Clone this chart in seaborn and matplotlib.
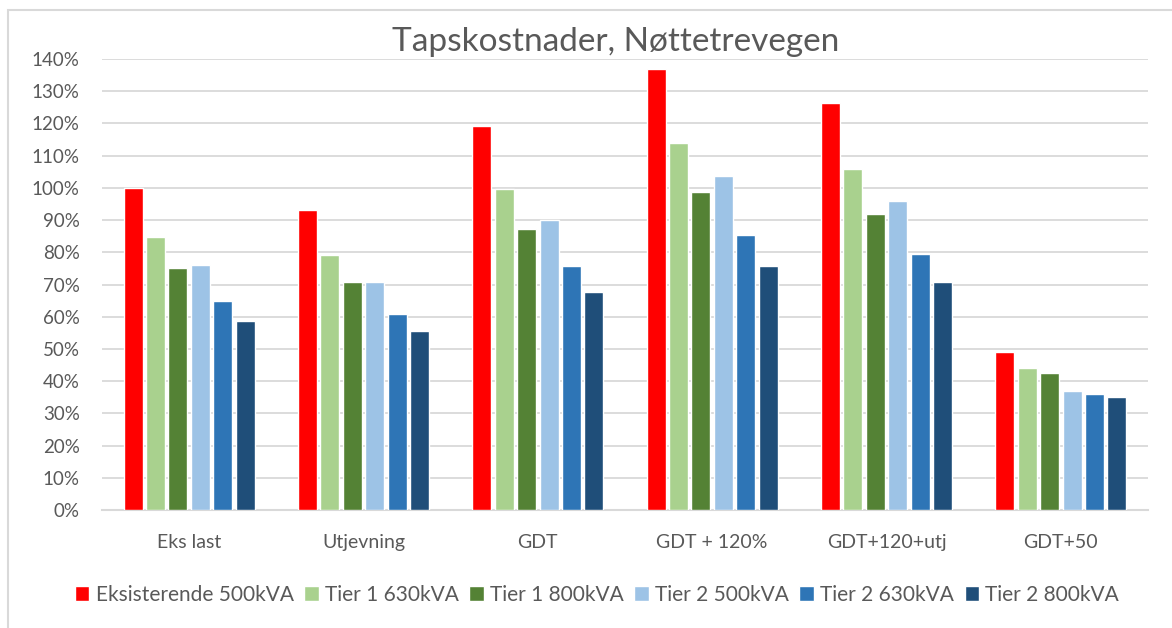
import pandas as pd
import seaborn as sns
import matplotlib.pyplot as plt
from matplotlib.patches import Rectangle
from matplotlib.ticker import PercentFormatter

scenarios = ["Eks last", "Utjevning", "GDT", "GDT + 120%", "GDT+120+utj", "GDT+50"]
series = ["Eksisterende 500kVA", "Tier 1 630kVA", "Tier 1 800kVA",
          "Tier 2 500kVA", "Tier 2 630kVA", "Tier 2 800kVA"]

eksisterende_500 = [100.0, 93.0, 119.3, 136.8, 126.4, 48.9]
tier1_630 = [84.7, 79.1, 99.8, 113.8, 105.8, 44.0]
tier1_800 = [75.2, 70.8, 87.2, 98.7, 91.9, 42.4]
tier2_500 = [76.0, 70.8, 90.1, 103.8, 95.9, 36.9]
tier2_630 = [64.8, 60.8, 75.6, 85.5, 79.5, 36.0]
tier2_800 = [58.8, 55.6, 67.6, 75.6, 70.8, 35.2]

colors = ["#FF0000", "#A9D18E", "#548235", "#9DC3E6", "#2E75B6", "#1F4E79"]

values = [eksisterende_500, tier1_630, tier1_800, tier2_500, tier2_630, tier2_800]
rows = []
for name, vals in zip(series, values):
    for sc, v in zip(scenarios, vals):
        rows.append({"scenario": sc, "series": name, "value": v})
df = pd.DataFrame(rows)

sns.set_style("white")
plt.rcParams["font.family"] = ["Lato", "DejaVu Sans"]
text_grey = "#595959"

fig = plt.figure(figsize=(11.72, 6.28), dpi=100)
ax = fig.add_axes([102 / 1172, 1 - 510 / 628, 1046 / 1172, 451 / 628])

sns.barplot(data=df, x="scenario", y="value", hue="series", palette=colors,
            saturation=1, width=0.77, gap=0.15, ax=ax, zorder=3)

ax.set_ylim(0, 140)
ax.set_xlim(-0.5, 5.5)
ax.set_yticks(range(0, 141, 10))
ax.yaxis.set_major_formatter(PercentFormatter(decimals=0))
ax.grid(axis="y", color="#D9D9D9", linewidth=1.3, zorder=0)
ax.set_axisbelow(True)
for s in ["top", "right", "left"]:
    ax.spines[s].set_visible(False)
ax.spines["bottom"].set_color("#D9D9D9")
ax.spines["bottom"].set_linewidth(1.5)
ax.set_xlabel("")
ax.set_ylabel("")
ax.tick_params(axis="y", length=0, pad=16, labelsize=13.5, labelcolor=text_grey)
ax.tick_params(axis="x", length=0, pad=17, labelsize=14, labelcolor=text_grey)

ax.get_legend().remove()
handles, labels = ax.get_legend_handles_labels()
fig.legend(handles, labels, loc="center", bbox_to_anchor=(597 / 1172, 1 - 595 / 628),
           ncol=6, frameon=False, fontsize=15, labelcolor=text_grey,
           handlelength=0.7, handleheight=0.7, handletextpad=0.3, columnspacing=0.5)

fig.text(616 / 1172, 1 - 42 / 628, "Tapskostnader, Nøttetrevegen", ha="center", va="center",
         fontsize=24, color=text_grey)

fig.patches.append(Rectangle((8 / 1172, -0.05), 1.1, 1 - 10 / 628 + 0.05,
                             transform=fig.transFigure, fill=False,
                             edgecolor="#D9D9D9", linewidth=1.5))

fig.savefig("out.png", dpi=100)
